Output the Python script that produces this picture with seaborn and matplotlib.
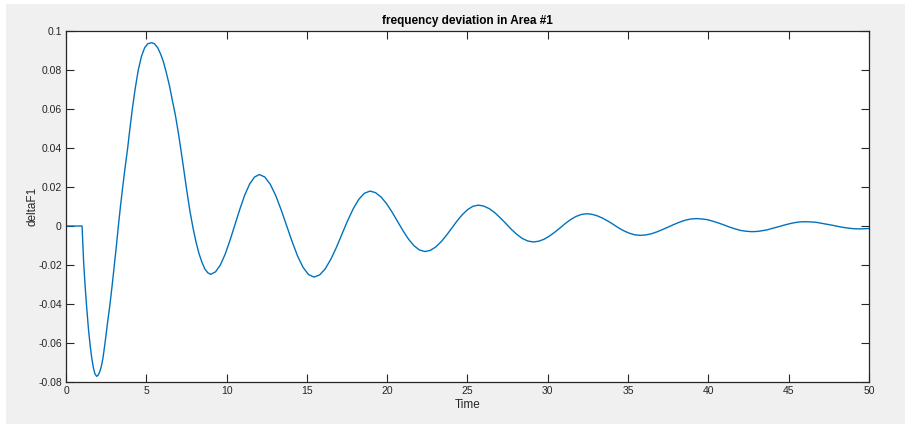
import matplotlib
matplotlib.use("Agg")
import matplotlib.pyplot as plt
import seaborn as sns
import pandas as pd
from matplotlib.patches import Rectangle

# Values
time = [0.0, 1.0, 1.05, 1.10, 1.2, 1.3, 1.4, 1.5, 1.6, 1.7, 1.8,
        1.91, 2.0, 2.1, 2.2, 2.3, 2.43, 2.58, 2.74, 2.88, 3.01, 3.14, 3.26, 3.39, 3.53,
        3.68, 3.84, 3.98, 4.13, 4.30, 4.5, 4.7, 4.9, 5.1,
        5.34, 5.5, 5.707, 5.9, 6.074, 6.25, 6.441, 6.62, 6.808, 7.0, 7.175, 7.36, 7.542,
        7.72, 7.909, 8.09, 8.276, 8.46, 8.643, 8.83,
        9.01, 9.313, 9.616, 9.919, 10.222, 10.525, 10.828, 11.131, 11.434, 11.737,
        12.04, 12.38, 12.72, 13.06, 13.40, 13.74, 14.08, 14.42, 14.76, 15.10,
        15.44, 15.789, 16.138, 16.487, 16.836, 17.185, 17.534, 17.883, 18.232, 18.581,
        18.93, 19.272, 19.614, 19.956, 20.298, 20.64, 20.982, 21.324, 21.666, 22.008,
        22.35, 22.682, 23.014, 23.346, 23.678, 24.01, 24.342, 24.674, 25.006, 25.338,
        25.67, 26.013, 26.356, 26.699, 27.042, 27.385, 27.728, 28.071, 28.414, 28.757,
        29.10, 29.432, 29.764, 30.096, 30.428, 30.76, 31.092, 31.424, 31.756, 32.088,
        32.42, 32.752, 33.084, 33.416, 33.748, 34.08, 34.412, 34.744, 35.076, 35.408,
        35.74, 36.093, 36.446, 36.799, 37.152, 37.505, 37.858, 38.211, 38.564, 38.917,
        39.27, 39.613, 39.956, 40.299, 40.642, 40.985, 41.328, 41.671, 42.014, 42.357,
        42.70, 43.032, 43.364, 43.696, 44.028, 44.36, 44.692, 45.024, 45.356, 45.688,
        46.02, 46.358, 46.696, 47.034, 47.372, 47.71, 48.048, 48.386, 48.724, 49.062,
        49.4, 50.0]
delta_f1 = [0.0, 0.0, -0.009, -0.019, -0.032, -0.043, -0.053, -0.061, -0.0675, -0.0725, -0.0758,
            -0.0771, -0.0765, -0.0748, -0.0720, -0.0678, -0.060, -0.050, -0.040, -0.030, -0.020,
            -0.010, 0.0, 0.010, 0.020, 0.030, 0.040, 0.050, 0.060, 0.070, 0.080, 0.087, 0.0915,
            0.0935,
            0.094, 0.0935, 0.0915, 0.0880, 0.084, 0.0785, 0.072, 0.0645, 0.057, 0.0475, 0.038,
            0.0275, 0.017, 0.0075, -0.001, -0.008, -0.014, -0.0185, -0.022, -0.0240,
            -0.0248, -0.0235, -0.0199, -0.0143, -0.0071, 0.0008, 0.0087, 0.0159, 0.0215, 0.0251,
            0.0264, 0.0251, 0.0214, 0.0156, 0.0082, 0.0001, -0.0080, -0.0154, -0.0212, -0.0249,
            -0.0262, -0.0251, -0.0220, -0.0171, -0.0110, -0.0042, 0.0027, 0.0088, 0.0137, 0.0168,
            0.0179, 0.0171, 0.0149, 0.0115, 0.0072, 0.0024, -0.0024, -0.0067, -0.0101, -0.0123,
            -0.0131, -0.0125, -0.0108, -0.0082, -0.0049, -0.0012, 0.0025, 0.0058, 0.0084, 0.0101,
            0.0107, 0.0102, 0.0089, 0.0068, 0.0042, 0.0013, -0.0017, -0.0043, -0.0064, -0.0077,
            -0.0082, -0.0078, -0.0068, -0.0052, -0.0032, -0.0010, 0.0013, 0.0033, 0.0049, 0.0059,
            0.0063, 0.0060, 0.0052, 0.0040, 0.0025, 0.0008, -0.0010, -0.0025, -0.0037, -0.0045,
            -0.0048, -0.0046, -0.0040, -0.0030, -0.0018, -0.0005, 0.0008, 0.0020, 0.0030, 0.0036,
            0.0038, 0.0036, 0.0032, 0.0024, 0.0015, 0.0005, -0.0006, -0.0015, -0.0023, -0.0027,
            -0.0029, -0.0028, -0.0024, -0.0019, -0.0011, -0.0004, 0.0004, 0.0011, 0.0017, 0.0021,
            0.0022, 0.0021, 0.0019, 0.0014, 0.0009, 0.0004, -0.0002, -0.0007, -0.0011, -0.0014,
            -0.0015, -0.0013]
x_ticks = [0, 5, 10, 15, 20, 25, 30, 35, 40, 45, 50]
y_ticks = [-0.08, -0.06, -0.04, -0.02, 0, 0.02, 0.04, 0.06, 0.08, 0.1]
y_tick_labels = ["-0.08", "-0.06", "-0.04", "-0.02", "0", "0.02", "0.04", "0.06", "0.08", "0.1"]

sns.set_style("white")
plt.rcParams["font.family"] = ["Liberation Sans", "DejaVu Sans"]

df = pd.DataFrame({"Time": time, "deltaF1": delta_f1})

W, H = 914, 428
fig = plt.figure(figsize=(W / 100, H / 100), dpi=100, facecolor="white")
fig.patches.append(Rectangle((6 / W, 4 / H), (905 - 6) / W, (424 - 4) / H,
                             transform=fig.transFigure, facecolor="#f0f0f0",
                             edgecolor="none", zorder=-10))
ax = fig.add_axes([66 / W, 1 - 382 / H, (869 - 66) / W, (382 - 31) / H])
ax.set_facecolor("white")

sns.lineplot(data=df, x="Time", y="deltaF1", ax=ax, color="#0072BD", linewidth=1.0)

ax.set_xlim(0, 50)
ax.set_ylim(-0.08, 0.1)
ax.set_xticks(x_ticks)
ax.set_xticklabels([str(v) for v in x_ticks])
ax.set_yticks(y_ticks)
ax.set_yticklabels(y_tick_labels)

axcol = "#262626"
for s in ax.spines.values():
    s.set_visible(True)
    s.set_color(axcol)
    s.set_linewidth(0.9)
ax.tick_params(direction="in", length=6, width=0.8, color=axcol, labelcolor=axcol,
               labelsize=7.5, top=True, right=True, bottom=True, left=True, pad=3)

ax.set_title("frequency deviation in Area #1", fontsize=8.5, fontweight="bold",
             color="black", pad=5)
ax.set_xlabel("Time", fontsize=8.5, color=axcol, labelpad=2)
ax.set_ylabel("deltaF1", fontsize=8.5, color=axcol, labelpad=0)

fig.savefig("out.png", dpi=100, facecolor=fig.get_facecolor())
